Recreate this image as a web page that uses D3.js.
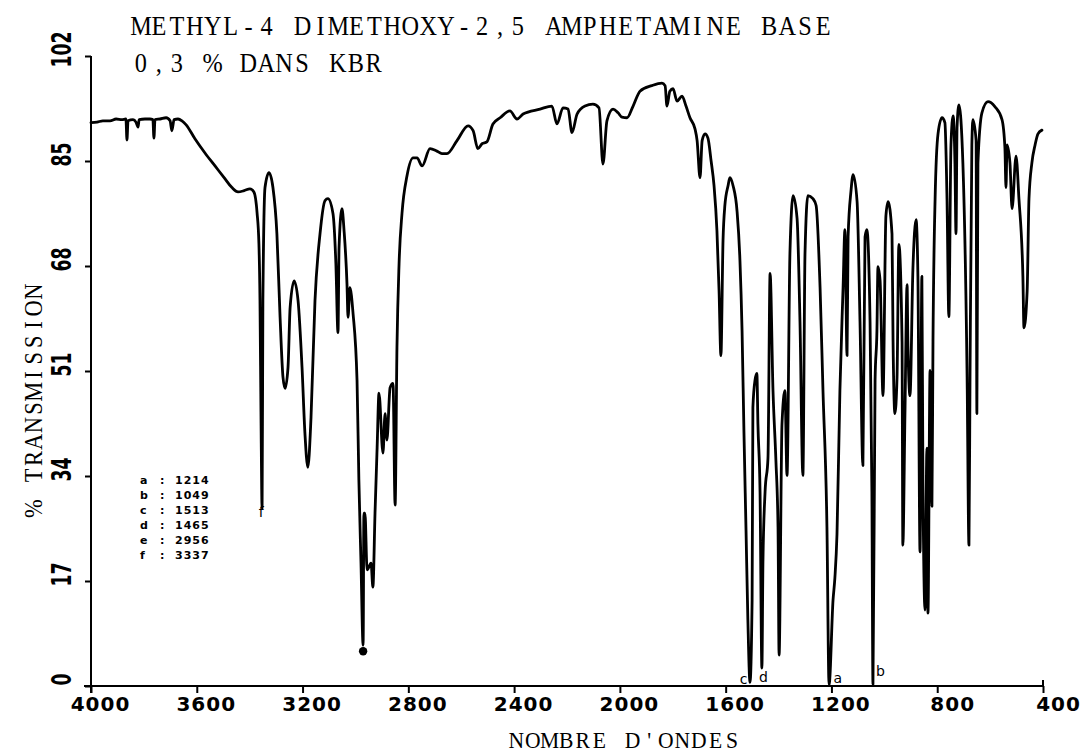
<!DOCTYPE html>
<html>
<head>
<meta charset="utf-8">
<script src="https://cdn.jsdelivr.net/npm/d3@7"></script>
<style>
body { margin: 0; background: #fff; }
svg { display: block; }
</style>
</head>
<body>
<div id="chart"></div>
<script>
const titleLines = ["METHYL-4 DIMETHOXY-2,5 AMPHETAMINE BASE", "0,3 % DANS KBR"];
const xTitle = "NOMBRE D'ONDES";
const yTitle = "% TRANSMISSION";
const xTicks = [4000, 3600, 3200, 2800, 2400, 2000, 1600, 1200, 800, 400];
const xTickLabels = ["4000", "3600", "3200", "2800", "2400", "2000", "1600", "1200", "800", "400"];
const yTicks = [0, 17, 34, 51, 68, 85, 102];
const bandLetters = ["a", "b", "c", "d", "e", "f"];
const bandValues = [1214, 1049, 1513, 1465, 2956, 3337];

// spectrum, cm-1 and % transmission
const wavenumber = [
  4000, 3977, 3955, 3928, 3905, 3883, 3868, 3864, 3860, 3841, 3830, 3822, 3818, 3796, 3777, 3766, 3762, 3758, 3739, 3716,
  3701, 3694, 3686, 3671, 3656, 3641, 3607, 3569, 3531, 3493, 3467, 3444, 3421, 3399, 3384, 3372, 3365, 3361, 3357, 3353,
  3350, 3342, 3327, 3312, 3297, 3285, 3274, 3266, 3255, 3247, 3232, 3217, 3202, 3191, 3180, 3168, 3153, 3134, 3115, 3104,
  3085, 3074, 3066, 3062, 3051, 3043, 3032, 3028, 3021, 3009, 2994, 2987, 2979, 2971, 2968, 2964, 2956, 2941, 2934, 2926,
  2918, 2911, 2896, 2888, 2881, 2869, 2858, 2850, 2843, 2835, 2824, 2805,
  2782, 2767, 2748, 2718, 2692, 2673, 2654, 2616, 2574, 2555, 2537, 2521, 2503, 2480, 2453, 2416, 2389, 2366, 2302, 2257,
  2238, 2215, 2196, 2181, 2162, 2132, 2102, 2079, 2064, 2049, 2026, 2007, 1992, 1973, 1950, 1924, 1879, 1841, 1829, 1822,
  1811, 1799, 1784, 1765, 1750, 1735, 1716, 1708, 1697, 1689, 1678, 1667, 1655, 1644, 1633, 1625, 1618, 1610, 1603, 1591,
  1584, 1572, 1557, 1546, 1538, 1531, 1523, 1516, 1508,
  1500, 1497, 1489, 1482, 1478, 1470, 1463, 1459, 1451, 1440, 1432, 1421, 1410, 1402, 1398, 1387, 1376, 1368, 1357, 1345,
  1330, 1319, 1308, 1300, 1289, 1270, 1258, 1243, 1232, 1217, 1209, 1194, 1187, 1179, 1168, 1156, 1149, 1141, 1137, 1126,
  1118, 1103, 1092, 1081, 1073, 1066, 1054, 1047, 1043,
  1035, 1028, 1024, 1016, 1005, 994, 986, 971, 967, 960, 952, 945, 933, 930, 922, 914, 911, 903, 892, 880,
  873, 865, 858, 854, 846, 839, 835, 827, 820, 816, 808, 797, 782, 771, 763, 756, 748, 740, 733, 729,
  725, 718, 703, 687, 680, 676, 669, 665, 653, 650, 646, 631, 608, 582, 555, 544, 540, 536, 525, 517,
  502, 491, 476, 472, 460, 453, 442, 430, 419, 404
];
const transmission = [
  91.2, 91.3, 91.5, 91.5, 91.8, 91.7, 91.8, 88.4, 91.5, 91.7, 91.3, 90.5, 91.7, 91.8, 91.8, 91.7, 88.7, 91.7, 91.8, 92.0,
  91.5, 89.9, 91.7, 91.8, 91.5, 90.9, 88.6, 86.3, 84.2, 82.1, 80.7, 80.0, 80.2, 80.5, 80.0, 76.6, 71.6, 62.4, 43.0, 28.8,
  62.4, 80.7, 83.1, 80.7, 73.2, 59.7, 50.0, 48.2, 51.6, 61.3, 65.6, 62.4, 51.6, 40.9, 35.4, 43.5, 62.4, 73.2, 78.6, 78.9,
  76.5, 68.4, 57.2, 71.0, 77.3, 73.7, 65.1, 59.7, 64.5, 60.3, 49.5, 33.3, 19.9, 6.6, 28.0, 28.0, 18.8, 19.9, 16.0, 28.0,
  38.6, 47.4, 37.7, 44.1, 39.8, 48.3, 49.0, 29.3, 54.8, 68.4, 76.5, 82.6,
  85.5, 85.5, 84.2, 87.0, 86.6, 86.2, 86.2, 88.3, 90.7, 89.9, 87.0, 87.8, 88.1, 91.0, 92.0, 93.1, 91.8, 92.6, 93.4, 93.9,
  91.0, 93.6, 93.4, 89.6, 92.6, 93.9, 94.2, 93.6, 84.5, 91.5, 93.4, 92.8, 92.1, 92.0, 93.9, 96.3, 97.2, 97.6, 97.2, 93.9,
  96.3, 96.7, 94.7, 95.5, 93.9, 92.0, 90.2, 88.3, 82.3, 88.3, 89.4, 88.7, 85.0, 81.0, 73.7, 64.0, 53.5, 72.1, 77.8, 81.0,
  82.3, 81.0, 76.9, 68.9, 57.5, 41.4, 25.2, 10.7, 0.6,
  13.9, 45.1, 49.5, 50.6, 42.4, 31.4, 2.9, 20.2, 31.4, 36.9, 66.8, 47.8, 36.5, 25.7, 5.0, 42.4, 47.8, 34.1, 70.0, 79.4,
  75.7, 59.0, 34.1, 70.0, 79.4, 78.9, 77.8, 64.5, 47.8, 25.7, 0.2, 13.9, 17.5, 24.6, 47.8, 64.5, 73.9, 53.5, 72.7, 80.2,
  82.8, 78.4, 59.0, 35.7, 72.7, 73.9, 59.0, 31.4, 0.3,
  49.5, 57.5, 67.9, 65.6, 47.0, 76.1, 78.4, 73.2, 55.8, 44.1, 50.0, 71.5, 55.8, 22.8, 44.1, 65.0, 55.8, 47.0, 67.4, 75.5,
  66.3, 21.7, 66.3, 32.7, 12.3, 38.5, 11.8, 51.1, 29.1, 55.8, 78.9, 89.4, 92.0, 91.2, 78.9, 59.8, 87.6, 92.3, 84.7, 73.2,
  90.5, 94.1, 84.7, 50.0, 22.8, 50.0, 87.6, 91.7, 88.3, 44.1, 84.7, 92.8, 94.6, 93.8, 91.7, 87.1, 80.7, 87.6, 84.7, 77.3,
  85.8, 78.9, 66.3, 58.0, 63.9, 78.9, 84.7, 87.6, 89.4, 90.0
];

const width = 1086;
const height = 755;
const ink = "#000";
const typeFont = "'Liberation Serif', serif";
const plotFont = "'DejaVu Sans', sans-serif";

const svg = d3.select("#chart")
  .append("svg")
  .attr("width", width)
  .attr("height", height)
  .attr("viewBox", [0, 0, width, height]);

const x = d3.scaleLinear().domain([4000, 400]).range([91, 1043]);
const y = d3.scaleLinear().domain([0, 102]).range([686, 56]);

// typewriter-like text: one character per fixed-width cell
function typeText(parent, str, pitch, size, squeeze) {
  const xs = Array.from(str, (c, i) => ((i + 0.5) * pitch) / squeeze);
  return parent.append("text")
    .attr("transform", `scale(${squeeze},1)`)
    .attr("x", xs.join(" "))
    .attr("text-anchor", "middle")
    .attr("fill", ink)
    .style("font-family", typeFont)
    .style("font-size", `${size}px`)
    .style("white-space", "pre")
    .text(str);
}

typeText(svg.append("g").attr("transform", "translate(132,35)"), titleLines[0], 17.95, 27, 0.9);
typeText(svg.append("g").attr("transform", "translate(132,72)"), titleLines[1], 17.9, 27, 0.9);
typeText(svg.append("g").attr("transform", "translate(508,748)"), xTitle, 16.6, 24, 0.9);
typeText(svg.append("g").attr("transform", "translate(42,517) rotate(-90)"), yTitle, 16.7, 25, 0.9);

// axes
const xAxis = svg.append("g")
  .attr("transform", `translate(0,${y(0)})`)
  .call(d3.axisBottom(x).tickValues(xTicks).tickSize(7).tickSizeOuter(0)
    .tickFormat((d, i) => xTickLabels[i]));
xAxis.select(".domain").remove();
xAxis.selectAll(".tick line").attr("stroke", ink).attr("stroke-width", 2);
xAxis.selectAll(".tick text")
  .attr("y", 25)
  .attr("dy", 0)
  .attr("dx", (d, i) => xTickLabels[i].length === 4 ? 9 : 15)
  .attr("fill", ink)
  .style("font-family", plotFont)
  .style("font-weight", "bold")
  .style("font-size", "20px")
  .style("letter-spacing", "1px");

const yAxis = svg.append("g")
  .attr("transform", `translate(${x(4000)},0)`)
  .call(d3.axisLeft(y).tickValues(yTicks).tickSize(6).tickSizeOuter(0));
yAxis.select(".domain").remove();
yAxis.selectAll(".tick line").attr("stroke", ink).attr("stroke-width", 2);
yAxis.selectAll(".tick text")
  .attr("x", 0)
  .attr("dy", 0)
  .attr("text-anchor", "middle")
  .attr("transform", "translate(-20,-7) rotate(-90) scale(0.64,1)")
  .attr("fill", ink)
  .style("font-family", plotFont)
  .style("font-weight", "bold")
  .style("font-size", "27px");

svg.append("line")
  .attr("x1", x(4000) - 7).attr("x2", x(400))
  .attr("y1", y(0)).attr("y2", y(0))
  .attr("stroke", ink).attr("stroke-width", 2);
svg.append("line")
  .attr("x1", x(4000)).attr("x2", x(4000))
  .attr("y1", y(102)).attr("y2", y(0) + 7)
  .attr("stroke", ink).attr("stroke-width", 2);
// small upward marks at both ends of the x axis
svg.selectAll(".end-tick")
  .data([4000, 400])
  .join("line")
  .attr("x1", (d) => x(d)).attr("x2", (d) => x(d))
  .attr("y1", y(0) - 6).attr("y2", y(0))
  .attr("stroke", ink).attr("stroke-width", 2);

// spectrum
const points = wavenumber.map((w, i) => ({ w: w, t: transmission[i] }));
svg.append("path")
  .datum(points)
  .attr("fill", "none")
  .attr("stroke", ink)
  .attr("stroke-width", 2.8)
  .attr("stroke-linejoin", "round")
  .attr("stroke-linecap", "round")
  .attr("d", d3.line().x((d) => x(d.w)).y((d) => y(d.t)).curve(d3.curveMonotoneX));

// band list
const legend = svg.append("g").attr("transform", "translate(140,484)");
bandLetters.forEach((b, i) => {
  const row = legend.append("text")
    .attr("y", i * 15)
    .attr("fill", ink)
    .style("font-family", plotFont)
    .style("font-weight", "bold")
    .style("font-size", "11px");
  row.append("tspan").attr("x", 0).text(b);
  row.append("tspan").attr("x", 20).text(":");
  row.append("tspan").attr("x", 35).style("letter-spacing", "1px").text(bandValues[i]);
});

// band marks on the trace
const markDx = { a: 10, b: 9, c: -5, d: 2, f: -5 };
const markBase = { a: 683, b: 676, c: 684, d: 682, f: 517 };
bandLetters.forEach((b, i) => {
  if (b === "e") {
    const near = points.filter((p) => Math.abs(p.w - bandValues[i]) < 40);
    const low = near.reduce((a, p) => (p.t < a.t ? p : a));
    svg.append("circle")
      .attr("cx", x(low.w))
      .attr("cy", y(low.t) + 6)
      .attr("r", 4.2)
      .attr("fill", ink);
    return;
  }
  svg.append("text")
    .attr("x", x(bandValues[i]) + markDx[b])
    .attr("y", markBase[b])
    .attr("text-anchor", "middle")
    .attr("fill", ink)
    .style("font-family", plotFont)
    .style("font-size", "14px")
    .text(b);
});
</script>
</body>
</html>
